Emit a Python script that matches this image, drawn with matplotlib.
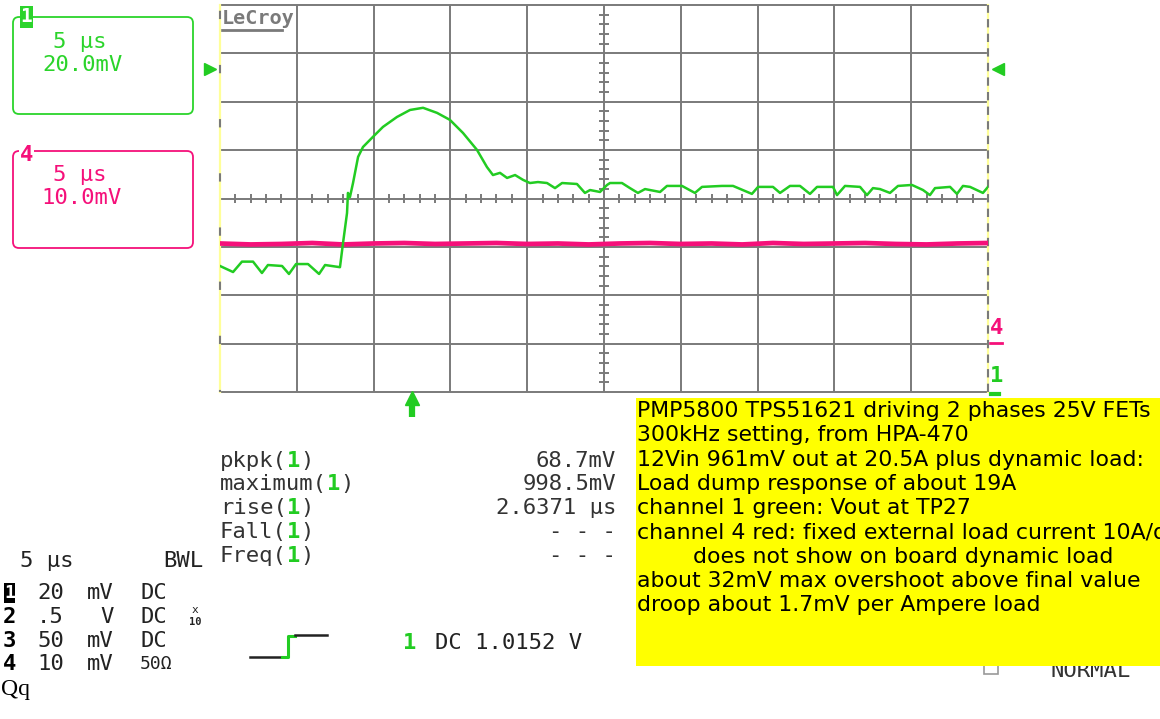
import matplotlib.pyplot as plt
from matplotlib.patches import FancyBboxPatch, Rectangle

W, H = 1160, 719

# channel 1 (green): Vout, time in us, voltage in mV
ch1_time = [-25.0, -24.15, -23.57, -22.85, -22.27, -21.88, -20.96, -20.51, -20.05, -19.27,
            -18.55, -18.16, -17.19, -16.99, -16.73, -16.67, -16.54, -16.34, -16.01, -15.69,
            -15.04, -14.39, -13.48, -12.63, -11.78, -10.87, -10.03, -9.18, -8.27, -7.62,
            -7.23, -6.77, -6.31, -5.79, -5.27, -4.82, -4.30, -3.71, -3.19, -2.73,
            -1.76, -1.24, -0.91, -0.26, 0.20, 0.39, 1.17, 1.69, 2.21, 2.67,
            3.65, 4.10, 5.08, 5.92, 6.38, 7.68, 8.40, 9.63, 10.03, 11.00,
            11.46, 12.11, 12.76, 13.41, 13.87, 14.91, 15.17, 15.69, 16.67, 17.12,
            17.51, 17.97, 18.62, 19.14, 20.05, 20.77, 21.22, 21.55, 22.53, 22.98,
            23.37, 23.83, 24.67, 25.0]
ch1_mv = [933.1, 930.6, 934.9, 934.9, 930.2, 933.5, 933.1, 929.8, 933.9, 933.9,
          929.8, 933.5, 932.6, 942.6, 955.0, 963.3, 961.6, 967.4, 978.2, 982.3,
          986.5, 990.6, 994.7, 997.6, 998.5, 996.4, 993.5, 988.1, 981.1, 974.0,
          970.7, 971.6, 969.5, 970.7, 968.7, 967.4, 967.8, 967.4, 965.3, 967.4,
          967.0, 963.3, 964.5, 963.7, 966.6, 967.4, 967.4, 965.3, 963.3, 964.9,
          963.7, 966.2, 966.2, 963.3, 965.8, 966.2, 966.2, 962.9, 965.8, 965.8,
          963.3, 966.2, 966.2, 962.9, 965.8, 965.8, 962.4, 966.2, 965.8, 962.4,
          965.3, 964.9, 963.3, 966.2, 966.6, 964.5, 962.4, 965.3, 965.8, 962.9,
          966.2, 965.8, 963.3, 965.8]

# channel 4 (pink): load current probe, mV relative to its screen centre
ch4_time = [-25, -23, -21, -19, -17, -15, -13, -11, -9, -7, -5, -3, -1,
            1, 3, 5, 7, 9, 11, 13, 15, 17, 19, 21, 23, 25]
ch4_mv = [-9.3, -9.5, -9.4, -9.2, -9.5, -9.3, -9.2, -9.4, -9.3, -9.2, -9.4, -9.3, -9.5,
          -9.3, -9.2, -9.4, -9.3, -9.5, -9.2, -9.4, -9.3, -9.2, -9.4, -9.5, -9.3, -9.2]

ch1_centre_mv = 961.0
ch1_mv_per_div = 20.0
ch4_mv_per_div = 10.0
trigger_level_mv = 1014.6
trigger_time_us = -12.5

meas_names = ['pkpk', 'maximum', 'rise', 'Fall', 'Freq']
meas_values = ['68.7mV', '998.5mV', '2.6371 \u00b5s', '- - -', '- - -']

chan_ids = ['1', '2', '3', '4']
chan_scale = ['20', '.5', '50', '10']
chan_unit = ['mV', 'V', 'mV', 'mV']
chan_coupling = ['DC', 'DC', 'DC', '50\u03a9']

notes = [
    'PMP5800 TPS51621 driving 2 phases 25V FETs',
    '300kHz setting, from HPA-470',
    '12Vin 961mV out at 20.5A plus dynamic load:',
    'Load dump response of about 19A',
    'channel 1 green: Vout at TP27',
    'channel 4 red: fixed external load current 10A/div',
    '        does not show on board dynamic load',
    'about 32mV max overshoot above final value',
    'droop about 1.7mV per Ampere load',
]

GREEN = '#22cc22'
GREEN_TXT = '#2bd42b'
PINK = '#f5107a'
GRID = '#7a7a7a'
MONO = 'DejaVu Sans Mono'
FS = 16

fig = plt.figure(figsize=(W / 100, H / 100), dpi=100)

# overlay in pixel coordinates for the scope's screen decorations
bg = fig.add_axes([0, 0, 1, 1])
bg.set_xlim(0, W)
bg.set_ylim(H, 0)
bg.axis('off')

# scope graticule
ax = fig.add_axes([220 / W, 1 - 392 / H, 768 / W, 387 / H])
ax.set_xlim(-25, 25)
ax.set_ylim(-4, 4)
ax.axis('off')

for x in range(-20, 25, 5):
    ax.axvline(x, color=GRID, lw=1.4, zorder=1)
for y in range(-4, 5):
    ax.axhline(y, color=GRID, lw=1.4, zorder=1, clip_on=False)
for x in (-25, 25):
    ax.axvline(x, color='#ffff99', lw=1.6, zorder=1, clip_on=False)
ax.axvline(25, color=GRID, lw=1.5, ls=(0, (4, 3)), zorder=1, clip_on=False)
ax.axvline(-25, color=GRID, lw=1.5, ls=(3, (4, 22)), zorder=1, clip_on=False)

minor_t = [t for t in range(-24, 25) if t % 5 != 0]
ax.vlines(minor_t, -0.1, 0.1, color=GRID, lw=1.4, zorder=1)
minor_v = [k / 5 for k in range(-19, 20) if k % 5 != 0]
ax.hlines(minor_v, -0.33, 0.33, color=GRID, lw=1.4, zorder=1)

ch4_div = [v / ch4_mv_per_div for v in ch4_mv]
ax.plot(ch4_time, ch4_div, color=PINK, lw=3.4, zorder=3)
ch1_div = [(v - ch1_centre_mv) / ch1_mv_per_div for v in ch1_mv]
ax.plot(ch1_time, ch1_div, color=GREEN, lw=1.8, zorder=4)

trig_div = (trigger_level_mv - ch1_centre_mv) / ch1_mv_per_div
ax.plot(-25.65, trig_div, marker='>', ms=8, color=GREEN, clip_on=False)
ax.plot(25.65, trig_div, marker='<', ms=8, color=GREEN, clip_on=False)
ax.plot([trigger_time_us] * 2, [-4.2, -4.52], color=GREEN, lw=4.5, clip_on=False,
        solid_capstyle='butt')
ax.plot(trigger_time_us, -4.12, marker='^', ms=10, color=GREEN, clip_on=False)

# LeCroy logo
bg.text(222, 19, 'LeCroy', family=MONO, weight='bold', size=14.5, color=GRID,
        ha='left', va='center')
bg.plot([222, 282], [30, 30], color=GRID, lw=2)

# channel boxes
bg.add_patch(FancyBboxPatch((13, 17), 180, 97, boxstyle='round,pad=0,rounding_size=6',
                            ec=GREEN_TXT, fc='none', lw=1.3))
bg.add_patch(Rectangle((20, 6), 13, 22, fc=GREEN_TXT, ec='none'))
bg.text(26.5, 17, '1', family=MONO, weight='bold', size=14, color='white',
        ha='center', va='center')
bg.text(80, 42, '5 \u00b5s', family=MONO, size=FS, color=GREEN_TXT, ha='center', va='center')
bg.text(82, 65, '20.0mV', family=MONO, size=FS, color=GREEN_TXT, ha='center', va='center')

bg.add_patch(FancyBboxPatch((13, 151), 180, 97, boxstyle='round,pad=0,rounding_size=6',
                            ec=PINK, fc='none', lw=1.3))
bg.text(26.5, 155, '4', family=MONO, weight='bold', size=16, color=PINK,
        ha='center', va='center',
        bbox=dict(fc='white', ec='none', pad=0.5))
bg.text(80, 175, '5 \u00b5s', family=MONO, size=FS, color=PINK, ha='center', va='center')
bg.text(82, 198, '10.0mV', family=MONO, size=FS, color=PINK, ha='center', va='center')

# right edge channel offset markers
bg.text(997, 328, '4', family=MONO, weight='bold', size=16, color=PINK, ha='center', va='center')
bg.plot([990, 1002], [343, 343], color=PINK, lw=2)
bg.text(997, 376, '1', family=MONO, weight='bold', size=16, color=GREEN, ha='center', va='center')
bg.plot([991, 999], [394, 394], color=GREEN, lw=3)

# measurement table
pitch = 0.602 * FS * 100 / 72
meas_rows = [461, 484, 508, 532, 556]
for name, value, y in zip(meas_names, meas_values, meas_rows):
    bg.text(220, y, name + '(', family=MONO, size=FS, color='#333333', ha='left', va='center')
    x1 = 220 + (len(name) + 1) * pitch
    bg.text(x1, y, '1', family=MONO, weight='bold', size=FS, color=GREEN, ha='left', va='center')
    bg.text(x1 + pitch, y, ')', family=MONO, size=FS, color='#333333', ha='left', va='center')
    bg.text(616, y, value, family=MONO, size=FS, color='#333333', ha='right', va='center')

# timebase and channel settings
bg.text(20, 561, '5 \u00b5s', family=MONO, size=FS, color='#222222', ha='left', va='center')
bg.text(203, 561, 'BWL', family=MONO, size=FS, color='#222222', ha='right', va='center')
chan_rows = [593, 617, 641, 664]
for cid, sc, unit, cpl, y in zip(chan_ids, chan_scale, chan_unit, chan_coupling, chan_rows):
    if cid == '1':
        bg.add_patch(Rectangle((4, y - 10), 11, 20, fc='black', ec='none'))
        bg.text(9.5, y, cid, family=MONO, weight='bold', size=13, color='white',
                ha='center', va='center')
    else:
        bg.text(9.5, y, cid, family=MONO, weight='bold', size=16, color='black',
                ha='center', va='center')
    bg.text(64, y, sc, family=MONO, size=FS, color='#222222', ha='right', va='center')
    bg.text(114, y, unit, family=MONO, size=FS, color='#222222', ha='right', va='center')
    csize = FS if cpl == 'DC' else 13
    bg.text(140, y, cpl, family=MONO, size=csize, color='#222222', ha='left', va='center')
bg.text(195, 610, 'x', family=MONO, size=8, color='#222222', ha='center', va='center')
bg.text(195, 622, '10', family=MONO, weight='bold', size=7.5, color='#222222', ha='center', va='center')

# trigger slope icon and trigger readout
bg.plot([250, 283], [657, 657], color='#222222', lw=1.8)
bg.plot([282, 288, 288, 295], [657, 657, 636, 636], color=GREEN, lw=2.2)
bg.plot([295, 327], [635, 635], color='#222222', lw=1.8)
bg.text(410, 643, '1', family=MONO, weight='bold', size=FS, color=GREEN, ha='center', va='center')
bg.text(435, 643, 'DC 1.0152 V', family=MONO, size=FS, color='#222222', ha='left', va='center')

# status line partly hidden by the note
bg.add_patch(Rectangle((984, 662), 14, 12, fc='none', ec='#999999', lw=1.2))
bg.text(1050, 671, 'NORMAL', family=MONO, size=FS, color='#333333', ha='left', va='center')

# yellow annotation box
bg.add_patch(Rectangle((636, 398), 540, 268, fc='#ffff00', ec='none', zorder=5))
for i, line in enumerate(notes):
    bg.text(637, 411 + i * 24.3, line, family='DejaVu Sans', size=15.8, color='black',
            ha='left', va='center', zorder=6, clip_on=True)

bg.text(1, 690, 'Qq', family='Liberation Serif', size=17, color='black', ha='left', va='center')

fig.savefig('out.png', dpi=100, facecolor='white')
